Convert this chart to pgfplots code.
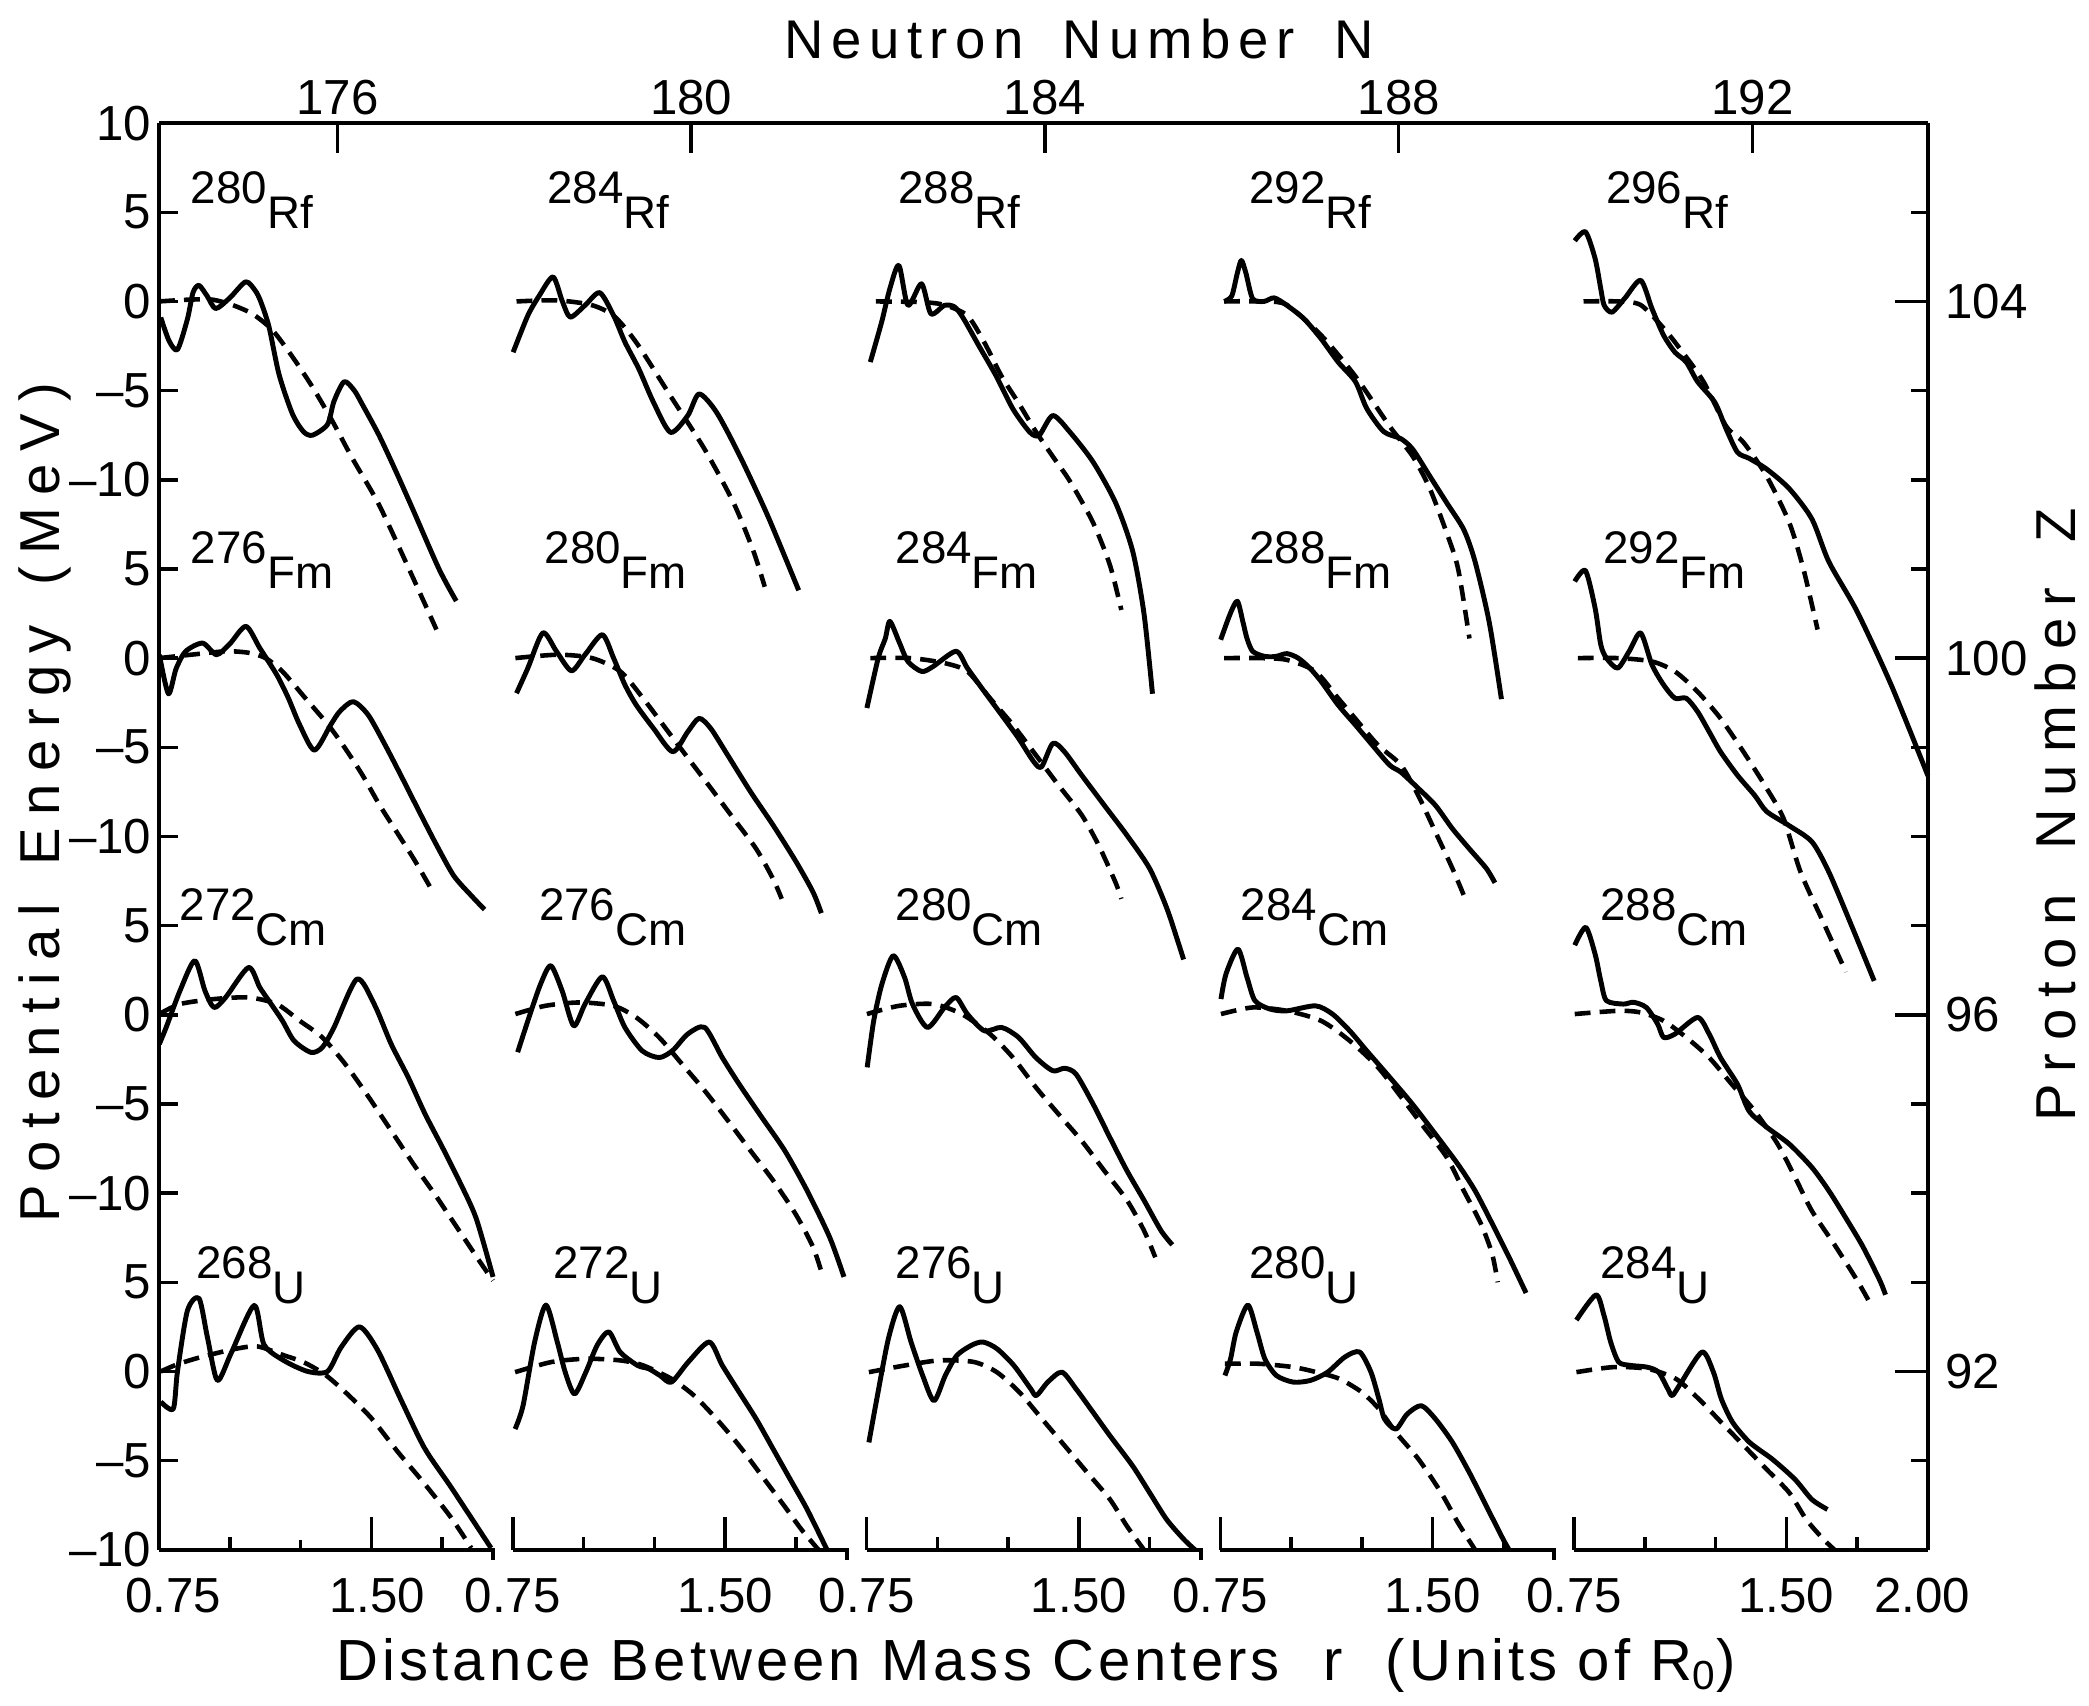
\documentclass[border=0pt]{standalone}
\usepackage{fontspec}
\setmainfont{Liberation Sans}
\newfontfamily\lab{Liberation Sans}[LetterSpace=7]
\newfontfamily\labw{Liberation Sans}[LetterSpace=14]
\newfontfamily\labv{Liberation Sans}[LetterSpace=22]
\usepackage{pgfplots}
\pgfplotsset{compat=1.18}
\pgfplotsset{
  pan/.style 2 args={x filter/.expression={x+#1}, y filter/.expression={y+#2}},
  sol/.style={black, line width=1.4pt, smooth, tension=0.45, line join=round},
  das/.style={black, line width=1.3pt, smooth, tension=0.45, dash pattern=on 4.5pt off 2.6pt},
  frame/.style={scale only axis, width=17.68cm, height=14.26cm, at={(0,0)}, anchor=south west,
    xmin=0.75, xmax=7, ymin=-10, ymax=70, clip=false,
    axis line style={line width=1.1pt}, tick style={line width=1pt, black},
    tick align=inside, tick label style={font=\fontsize{14}{16}\selectfont}},
}
% panel label: x, y, mass number, element
\newcommand\lbl[4]{\node[anchor=base west, inner sep=0, font=\fontsize{13}{15}\selectfont]
  at (axis cs:#1,#2) {\raisebox{0.25cm}{#3}#4};}
\newcommand\bl[2]{\node[anchor=base, inner sep=0, font=\fontsize{14}{16}\selectfont]
  at (axis cs:#1,-10) [yshift=-0.63cm] {#2};}

\begin{document}
\begin{tikzpicture}
\path[use as bounding box] (-1.59,-1.56) rectangle (19.29,15.49);

% top axis: neutron number
\begin{axis}[frame, axis x line*=top, axis y line=none, ytick=\empty,
  xtick={1.38,2.63,3.88,5.13,6.38}, xticklabels={176,180,184,188,192},
  major tick length=0.3cm, xticklabel style={anchor=south, inner sep=2pt}]
\end{axis}

% right axis: proton number
\begin{axis}[frame, axis y line*=right, axis x line=none, xtick=\empty,
  ytick={0,20,40,60}, yticklabels={92,96,100,104},
  minor ytick={-5,5,10,15,25,30,35,45,50,55,65},
  major tick length=0.33cm, minor tick length=0.17cm,
  yticklabel style={anchor=west, xshift=0.05cm}]
\end{axis}

% main axis with the curves
\begin{axis}[frame, axis y line*=left, axis x line=none, xtick=\empty,
  ytick={-10,-5,0,5,10,15,20,25,30,35,40,45,50,55,60,65,70},
  yticklabels={--10,--5,0,5,--10,--5,0,5,--10,--5,0,5,--10,--5,0,5,10},
  major tick length=0.19cm, yticklabel style={inner sep=2pt}]

% ---------- Rf row (Z=104) ----------
\addplot[sol, pan={0}{60}] coordinates {(0.756,-0.9) (0.785,-2.2) (0.815,-2.7) (0.85,-1.0) (0.87,0.5) (0.891,0.9) (0.92,0.3) (0.95,-0.4) (1.0,0.2) (1.056,1.1) (1.09,0.6) (1.109,0.0) (1.138,-1.4) (1.174,-4.1) (1.221,-6.3) (1.26,-7.3) (1.292,-7.5) (1.345,-6.9) (1.368,-5.6) (1.404,-4.5) (1.44,-5.0) (1.469,-5.8) (1.527,-7.5) (1.586,-9.5) (1.645,-11.6) (1.739,-15.0) (1.80,-16.8)};
\addplot[das, pan={0}{60}] coordinates {(0.75,0) (0.856,0.1) (0.938,0.1) (1.009,-0.2) (1.08,-0.7) (1.15,-1.6) (1.221,-3.1) (1.292,-4.8) (1.362,-6.7) (1.433,-8.8) (1.527,-11.4) (1.633,-15.0) (1.73,-18.4)};

\addplot[sol, pan={1.25}{60}] coordinates {(0.751,-2.85) (0.803,-0.79) (0.844,0.34) (0.892,1.37) (0.925,0.0) (0.953,-0.88) (1.005,-0.22) (1.057,0.49) (1.106,-0.79) (1.146,-2.28) (1.195,-3.78) (1.247,-5.66) (1.307,-7.34) (1.368,-6.4) (1.408,-5.19) (1.469,-6.2) (1.55,-8.6) (1.65,-12.0) (1.76,-16.2)};
\addplot[das, pan={1.25}{60}] coordinates {(0.763,0) (0.904,0.06) (1.025,-0.19) (1.106,-0.8) (1.186,-2.3) (1.307,-5.3) (1.428,-8.3) (1.53,-11.3) (1.60,-14.0) (1.64,-16.0)};

\addplot[sol, pan={2.5}{60}] coordinates {(0.763,-3.4) (0.803,-1.16) (0.832,0.71) (0.864,2.02) (0.896,-0.22) (0.944,0.99) (0.977,-0.69) (1.025,-0.22) (1.06,-0.3) (1.09,-0.9) (1.146,-2.47) (1.207,-4.16) (1.267,-6.03) (1.327,-7.34) (1.36,-7.5) (1.408,-6.4) (1.469,-7.34) (1.55,-9.0) (1.63,-11.3) (1.69,-14.0) (1.73,-17.5) (1.76,-22.0)};
\addplot[das, pan={2.5}{60}] coordinates {(0.783,0) (0.945,-0.04) (1.025,-0.2) (1.106,-0.8) (1.166,-2.3) (1.227,-4.2) (1.287,-5.7) (1.348,-7.3) (1.408,-8.7) (1.469,-10.1) (1.55,-12.4) (1.61,-14.8) (1.65,-17.3)};

\addplot[sol, pan={3.75}{60}] coordinates {(0.763,0.0) (0.79,0.3) (0.81,1.6) (0.824,2.3) (0.84,1.6) (0.864,0.15) (0.904,0.0) (0.94,0.2) (0.985,-0.22) (1.045,-0.97) (1.106,-2.1) (1.166,-3.4) (1.227,-4.5) (1.267,-6.0) (1.327,-7.3) (1.388,-7.7) (1.43,-8.3) (1.49,-9.8) (1.55,-11.3) (1.61,-12.8) (1.65,-14.6) (1.70,-18.0) (1.743,-22.3)};
\addplot[das, pan={3.75}{60}] coordinates {(0.763,0) (0.904,0) (0.985,-0.2) (1.106,-1.9) (1.227,-4.2) (1.348,-7.0) (1.43,-8.7) (1.49,-10.5) (1.55,-13.0) (1.59,-15.0) (1.63,-18.9)};

\addplot[sol, pan={5}{60}] coordinates {(0.752,3.4) (0.79,3.9) (0.824,2.4) (0.844,0.71) (0.856,-0.22) (0.884,-0.6) (0.93,0.2) (0.985,1.18) (1.025,-0.41) (1.066,-1.9) (1.106,-2.85) (1.146,-3.4) (1.186,-4.5) (1.247,-5.66) (1.287,-7.15) (1.327,-8.46) (1.368,-8.8) (1.43,-9.4) (1.51,-10.5) (1.59,-12.2) (1.65,-14.6) (1.75,-17.4) (1.87,-21.5) (2.0,-26.6)};
\addplot[das, pan={5}{60}] coordinates {(0.783,0) (0.904,0) (0.985,-0.2) (1.066,-1.5) (1.126,-2.7) (1.207,-4.5) (1.287,-7.0) (1.348,-7.9) (1.43,-9.8) (1.51,-12.4) (1.56,-15.0) (1.61,-18.4)};

% ---------- Fm row (Z=100) ----------
\addplot[sol, pan={0}{40}] coordinates {(0.751,0.19) (0.783,-2.0) (0.81,-0.6) (0.844,0.38) (0.904,0.84) (0.953,0.19) (1.0,0.8) (1.057,1.78) (1.106,0.56) (1.166,-0.94) (1.207,-2.25) (1.247,-3.75) (1.299,-5.16) (1.356,-3.75) (1.388,-3.0) (1.436,-2.44) (1.489,-3.19) (1.549,-4.88) (1.61,-6.75) (1.67,-8.63) (1.731,-10.5) (1.791,-12.2) (1.852,-13.3) (1.9,-14.1)};
\addplot[das, pan={0}{40}] coordinates {(0.751,0) (0.863,0.19) (0.985,0.38) (1.066,0.3) (1.126,0) (1.186,-0.75) (1.267,-2.25) (1.348,-3.75) (1.408,-5.07) (1.469,-6.57) (1.53,-8.26) (1.59,-9.76) (1.65,-11.26) (1.71,-12.9)};

\addplot[sol, pan={1.25}{40}] coordinates {(0.763,-1.97) (0.803,-0.56) (0.856,1.41) (0.904,0.38) (0.957,-0.71) (1.005,0.19) (1.066,1.31) (1.106,0) (1.146,-1.5) (1.186,-2.63) (1.247,-3.94) (1.315,-5.25) (1.368,-4.13) (1.408,-3.38) (1.449,-3.94) (1.509,-5.44) (1.59,-7.5) (1.67,-9.38) (1.75,-11.4) (1.81,-13.1) (1.84,-14.3)};
\addplot[das, pan={1.25}{40}] coordinates {(0.759,0) (0.91,0.19) (1.03,0) (1.13,-0.75) (1.21,-2.25) (1.29,-3.94) (1.37,-5.63) (1.45,-7.3) (1.53,-9.0) (1.61,-10.7) (1.67,-12.4) (1.70,-13.5)};

\addplot[sol, pan={2.5}{40}] coordinates {(0.751,-2.8) (0.791,0) (0.816,1.1) (0.832,2.06) (0.864,0.94) (0.896,-0.19) (0.945,-0.75) (0.985,-0.47) (1.066,0.38) (1.106,-0.56) (1.166,-1.88) (1.227,-3.19) (1.287,-4.5) (1.34,-5.8) (1.368,-6.1) (1.408,-4.78) (1.449,-5.25) (1.51,-6.57) (1.59,-8.26) (1.67,-9.94) (1.75,-11.8) (1.81,-14.0) (1.85,-15.9) (1.87,-16.9)};
\addplot[das, pan={2.5}{40}] coordinates {(0.763,0) (0.904,0) (1.025,-0.28) (1.106,-0.75) (1.186,-2.25) (1.267,-3.75) (1.348,-5.44) (1.428,-7.13) (1.51,-8.8) (1.57,-10.5) (1.63,-12.6) (1.65,-13.5)};

\addplot[sol, pan={3.75}{40}] coordinates {(0.751,1.03) (0.785,2.5) (0.81,3.19) (0.83,2.0) (0.844,1.1) (0.864,0.38) (0.905,0.1) (0.945,0.09) (0.985,0.25) (1.025,0) (1.066,-0.56) (1.106,-1.31) (1.166,-2.63) (1.227,-3.75) (1.287,-4.88) (1.348,-6.0) (1.388,-6.4) (1.449,-7.3) (1.51,-8.26) (1.57,-9.57) (1.63,-10.7) (1.69,-11.8) (1.72,-12.6)};
\addplot[das, pan={3.75}{40}] coordinates {(0.763,0) (0.884,0) (0.985,-0.1) (1.086,-0.75) (1.166,-2.25) (1.227,-3.4) (1.307,-4.88) (1.388,-6.0) (1.449,-7.7) (1.51,-9.76) (1.57,-11.8) (1.61,-13.3)};

\addplot[sol, pan={5}{40}] coordinates {(0.752,4.3) (0.79,4.9) (0.824,2.8) (0.844,0.75) (0.864,0) (0.904,-0.56) (0.945,0.4) (0.985,1.41) (1.025,-0.38) (1.066,-1.5) (1.106,-2.25) (1.146,-2.25) (1.186,-3.0) (1.227,-4.13) (1.267,-5.25) (1.327,-6.57) (1.388,-7.7) (1.43,-8.6) (1.51,-9.4) (1.59,-10.3) (1.65,-12.0) (1.73,-15.0) (1.81,-18.1)};
\addplot[das, pan={5}{40}] coordinates {(0.763,0) (0.904,0) (1.025,-0.19) (1.106,-0.75) (1.186,-1.88) (1.267,-3.38) (1.348,-5.25) (1.43,-7.3) (1.49,-9.0) (1.55,-12.0) (1.63,-14.8) (1.71,-17.6)};

% ---------- Cm row (Z=96) ----------
\addplot[sol, pan={0}{20}] coordinates {(0.751,-1.64) (0.775,-0.71) (0.824,1.35) (0.876,3.03) (0.912,1.35) (0.944,0.41) (0.985,0.97) (1.066,2.65) (1.106,1.53) (1.146,0.6) (1.186,-0.34) (1.227,-1.46) (1.287,-2.11) (1.327,-1.83) (1.368,-0.71) (1.449,2.0) (1.51,0.6) (1.57,-1.64) (1.63,-3.5) (1.69,-5.57) (1.75,-7.4) (1.81,-9.3) (1.87,-11.4) (1.93,-14.7)};
\addplot[das, pan={0}{20}] coordinates {(0.751,0.04) (0.824,0.6) (0.944,0.88) (1.066,0.97) (1.166,0.6) (1.247,-0.34) (1.327,-1.27) (1.408,-2.77) (1.49,-4.6) (1.57,-6.5) (1.65,-8.4) (1.73,-10.2) (1.81,-12.1) (1.89,-14.0) (1.93,-14.9)};

\addplot[sol, pan={1.25}{20}] coordinates {(0.767,-2.1) (0.807,-0.15) (0.848,1.72) (0.884,2.75) (0.924,1.35) (0.965,-0.62) (1.005,0.6) (1.066,2.13) (1.106,0.79) (1.146,-0.71) (1.207,-2.02) (1.267,-2.4) (1.315,-2.0) (1.368,-1.08) (1.428,-0.71) (1.49,-2.4) (1.55,-3.9) (1.63,-5.76) (1.71,-7.6) (1.79,-9.87) (1.87,-12.5) (1.92,-14.7)};
\addplot[das, pan={1.25}{20}] coordinates {(0.759,0.04) (0.864,0.5) (0.985,0.69) (1.106,0.5) (1.186,-0.15) (1.267,-1.27) (1.348,-2.77) (1.428,-4.26) (1.51,-5.94) (1.59,-7.63) (1.67,-9.3) (1.75,-11.2) (1.81,-13.0) (1.84,-14.4)};

\addplot[sol, pan={2.5}{20}] coordinates {(0.752,-2.95) (0.775,-0.34) (0.804,1.72) (0.844,3.31) (0.884,2.1) (0.912,0.6) (0.965,-0.71) (1.025,0.41) (1.066,0.97) (1.106,0.04) (1.166,-0.9) (1.227,-0.71) (1.287,-1.27) (1.348,-2.4) (1.408,-3.14) (1.45,-3.0) (1.49,-3.33) (1.55,-5.0) (1.61,-6.9) (1.67,-8.75) (1.73,-10.4) (1.79,-12.1) (1.83,-12.9)};
\addplot[das, pan={2.5}{20}] coordinates {(0.751,0.04) (0.864,0.5) (0.985,0.6) (1.086,0.04) (1.186,-1.08) (1.267,-2.4) (1.348,-4.07) (1.428,-5.57) (1.51,-7.07) (1.59,-8.75) (1.67,-10.4) (1.73,-12.1) (1.77,-13.6)};

\addplot[sol, pan={3.75}{20}] coordinates {(0.752,0.88) (0.77,2.3) (0.812,3.68) (0.844,2.1) (0.872,0.79) (0.925,0.32) (0.985,0.22) (1.086,0.5) (1.146,0.04) (1.207,-0.9) (1.267,-2.02) (1.348,-3.5) (1.428,-5.0) (1.51,-6.7) (1.59,-8.4) (1.65,-9.87) (1.71,-11.7) (1.77,-13.6) (1.83,-15.6)};
\addplot[das, pan={3.75}{20}] coordinates {(0.752,0.04) (0.864,0.41) (0.985,0.22) (1.106,-0.34) (1.207,-1.46) (1.307,-2.95) (1.388,-4.6) (1.469,-6.3) (1.55,-8.0) (1.61,-9.87) (1.67,-11.7) (1.71,-13.4) (1.73,-15.0)};

\addplot[sol, pan={5}{20}] coordinates {(0.752,3.9) (0.791,4.9) (0.824,3.4) (0.844,1.9) (0.864,0.79) (0.924,0.6) (0.96,0.7) (1.005,0.41) (1.045,-0.52) (1.066,-1.27) (1.106,-1.08) (1.186,-0.15) (1.227,-1.08) (1.267,-2.4) (1.327,-3.9) (1.368,-5.4) (1.43,-6.3) (1.51,-7.25) (1.59,-8.56) (1.65,-9.87) (1.71,-11.4) (1.77,-13.0) (1.83,-14.9) (1.85,-15.7)};
\addplot[das, pan={5}{20}] coordinates {(0.752,0.04) (0.904,0.22) (0.985,0.13) (1.066,-0.34) (1.146,-1.27) (1.227,-2.4) (1.307,-3.9) (1.388,-5.4) (1.469,-7.25) (1.53,-9.1) (1.59,-11.0) (1.67,-12.9) (1.75,-14.9) (1.80,-16.3)};

% ---------- U row (Z=92) ----------
\addplot[sol, pan={0}{0}] coordinates {(0.756,-1.7) (0.80,-2.1) (0.815,0.0) (0.85,3.4) (0.891,4.1) (0.921,1.9) (0.956,-0.5) (1.004,1.0) (1.086,3.7) (1.121,1.5) (1.192,0.6) (1.275,0.0) (1.345,0.0) (1.393,1.35) (1.458,2.5) (1.522,1.2) (1.605,-1.6) (1.688,-4.3) (1.782,-6.5) (1.923,-9.9)};
\addplot[das, pan={0}{0}] coordinates {(0.756,0) (0.815,0.4) (0.897,0.8) (1.015,1.25) (1.098,1.4) (1.192,0.9) (1.263,0.5) (1.334,-0.15) (1.404,-1.1) (1.499,-2.6) (1.593,-4.5) (1.688,-6.3) (1.782,-8.2) (1.853,-9.9)};

\addplot[sol, pan={1.25}{0}] coordinates {(0.758,-3.23) (0.786,-1.92) (0.827,1.65) (0.867,3.72) (0.907,1.65) (0.935,-0.04) (0.968,-1.26) (1.008,-0.04) (1.048,1.47) (1.089,2.22) (1.129,1.09) (1.19,0.34) (1.23,0.15) (1.27,-0.23) (1.31,-0.6) (1.37,0.53) (1.444,1.65) (1.49,0.34) (1.55,-1.17) (1.61,-2.67) (1.67,-4.36) (1.73,-6.05) (1.79,-7.74) (1.86,-10.0)};
\addplot[das, pan={1.25}{0}] coordinates {(0.758,-0.04) (0.887,0.53) (1.008,0.71) (1.129,0.62) (1.21,0.34) (1.31,-0.41) (1.39,-1.35) (1.47,-2.67) (1.55,-4.17) (1.63,-5.86) (1.71,-7.56) (1.77,-8.87) (1.83,-10.0)};

\addplot[sol, pan={2.5}{0}] coordinates {(0.758,-3.98) (0.786,-1.54) (0.827,1.84) (0.867,3.63) (0.907,1.65) (0.948,-0.23) (0.988,-1.64) (1.028,-0.23) (1.069,0.9) (1.121,1.47) (1.161,1.65) (1.21,1.28) (1.27,0.34) (1.33,-0.98) (1.35,-1.35) (1.39,-0.6) (1.44,-0.04) (1.49,-0.98) (1.55,-2.29) (1.61,-3.61) (1.69,-5.3) (1.75,-6.8) (1.81,-8.3) (1.87,-9.4) (1.91,-10.0)};
\addplot[das, pan={2.5}{0}] coordinates {(0.758,-0.04) (0.887,0.34) (1.008,0.62) (1.129,0.53) (1.21,-0.04) (1.29,-1.17) (1.37,-2.67) (1.45,-4.17) (1.53,-5.68) (1.61,-7.18) (1.67,-8.68) (1.73,-10.0)};

\addplot[sol, pan={3.75}{0}] coordinates {(0.766,-0.23) (0.786,0.71) (0.806,2.22) (0.847,3.72) (0.879,2.22) (0.907,0.71) (0.948,-0.23) (1.008,-0.6) (1.069,-0.5) (1.129,-0.04) (1.19,0.81) (1.242,1.09) (1.282,-0.04) (1.31,-1.54) (1.33,-2.67) (1.37,-3.23) (1.41,-2.39) (1.46,-1.92) (1.51,-2.67) (1.57,-3.98) (1.63,-5.68) (1.69,-7.56) (1.75,-9.44) (1.77,-10.0)};
\addplot[das, pan={3.75}{0}] coordinates {(0.766,0.43) (0.887,0.43) (1.008,0.24) (1.089,-0.04) (1.17,-0.41) (1.25,-1.17) (1.31,-2.1) (1.37,-3.42) (1.45,-4.92) (1.53,-6.8) (1.59,-8.5) (1.65,-10.0)};

\addplot[sol, pan={5}{0}] coordinates {(0.758,2.88) (0.827,4.29) (0.855,3.16) (0.879,1.65) (0.907,0.53) (0.948,0.34) (1.008,0.24) (1.048,-0.04) (1.081,-0.98) (1.097,-1.35) (1.129,-0.6) (1.202,1.09) (1.242,-0.04) (1.27,-1.54) (1.31,-2.86) (1.37,-3.98) (1.45,-4.92) (1.53,-6.05) (1.59,-7.18) (1.645,-7.74)};
\addplot[das, pan={5}{0}] coordinates {(0.758,-0.04) (0.887,0.24) (1.008,0.15) (1.109,-0.41) (1.19,-1.54) (1.27,-2.86) (1.35,-4.17) (1.43,-5.49) (1.51,-6.8) (1.57,-8.3) (1.63,-9.4) (1.67,-10.0)};

% ---------- panel labels ----------
\lbl{0.86}{64.1}{280}{Rf} \lbl{2.12}{64.1}{284}{Rf} \lbl{3.36}{64.1}{288}{Rf} \lbl{4.6}{64.1}{292}{Rf} \lbl{5.86}{64.1}{296}{Rf}
\lbl{0.86}{43.9}{276}{Fm} \lbl{2.11}{43.9}{280}{Fm} \lbl{3.35}{43.9}{284}{Fm} \lbl{4.6}{43.9}{288}{Fm} \lbl{5.85}{43.9}{292}{Fm}
\lbl{0.82}{23.9}{272}{Cm} \lbl{2.09}{23.9}{276}{Cm} \lbl{3.35}{23.9}{280}{Cm} \lbl{4.57}{23.9}{284}{Cm} \lbl{5.84}{23.9}{288}{Cm}
\lbl{0.88}{3.8}{268}{U} \lbl{2.14}{3.8}{272}{U} \lbl{3.35}{3.8}{276}{U} \lbl{4.6}{3.8}{280}{U} \lbl{5.84}{3.8}{284}{U}

% ---------- broken bottom axis ----------
\draw[line width=1.1pt] (axis cs:0.75,-10) -- (axis cs:1.93,-10) -- ++(0pt,-0.1cm);
\draw[line width=1.1pt] (axis cs:2.0,-10) -- (axis cs:3.18,-10) -- ++(0pt,-0.1cm);
\draw[line width=1.1pt] (axis cs:3.25,-10) -- (axis cs:4.43,-10) -- ++(0pt,-0.1cm);
\draw[line width=1.1pt] (axis cs:4.5,-10) -- (axis cs:5.68,-10) -- ++(0pt,-0.1cm);
\draw[line width=1.1pt] (axis cs:5.75,-10) -- (axis cs:7.0,-10);
\draw[line width=1pt]
  (axis cs:2.0,-10) -- ++(0pt,0.33cm) (axis cs:3.25,-10) -- ++(0pt,0.33cm)
  (axis cs:4.5,-10) -- ++(0pt,0.33cm) (axis cs:5.75,-10) -- ++(0pt,0.33cm)
  (axis cs:1.5,-10) -- ++(0pt,0.33cm) (axis cs:2.75,-10) -- ++(0pt,0.33cm)
  (axis cs:4.0,-10) -- ++(0pt,0.33cm) (axis cs:5.25,-10) -- ++(0pt,0.33cm)
  (axis cs:6.5,-10) -- ++(0pt,0.33cm)
  (axis cs:1.0,-10) -- ++(0pt,0.13cm) (axis cs:1.25,-10) -- ++(0pt,0.1cm) (axis cs:1.75,-10) -- ++(0pt,0.13cm)
  (axis cs:2.25,-10) -- ++(0pt,0.13cm) (axis cs:2.5,-10) -- ++(0pt,0.13cm) (axis cs:3.0,-10) -- ++(0pt,0.13cm)
  (axis cs:3.5,-10) -- ++(0pt,0.13cm) (axis cs:3.75,-10) -- ++(0pt,0.13cm) (axis cs:4.25,-10) -- ++(0pt,0.13cm)
  (axis cs:4.75,-10) -- ++(0pt,0.13cm) (axis cs:5.0,-10) -- ++(0pt,0.13cm) (axis cs:5.5,-10) -- ++(0pt,0.13cm)
  (axis cs:6.0,-10) -- ++(0pt,0.13cm) (axis cs:6.25,-10) -- ++(0pt,0.13cm) (axis cs:6.75,-10) -- ++(0pt,0.13cm);
\bl{0.80}{0.75} \bl{1.52}{1.50} \bl{2.0}{0.75} \bl{2.75}{1.50} \bl{3.25}{0.75} \bl{4.0}{1.50}
\bl{4.5}{0.75} \bl{5.25}{1.50} \bl{5.75}{0.75} \bl{6.5}{1.50} \bl{6.98}{2.00}

% ---------- axis titles ----------
\node[anchor=base, inner sep=0, font=\lab\fontsize{16.5}{20}\selectfont] at (axis cs:3.85,-10) [yshift=-1.31cm]
  {Distance Between Mass Centers\hspace{0.4em} r\hspace{0.4em} (Units of R\textsubscript{0})};
\node[anchor=base, inner sep=0, font=\labw\fontsize{15.5}{18}\selectfont] at (axis cs:4.0,70) [yshift=0.65cm]
  {Neutron\hspace{0.3em} Number\hspace{0.3em} N};
\node[xshift=-1.14cm, rotate=90, inner sep=0, font=\labv\fontsize{16}{19}\selectfont] at (axis cs:0.75,31.9)
  {Potential\hspace{0.2em} Energy\hspace{0.2em} (MeV)};
\node[xshift=1.27cm, rotate=90, inner sep=0, font=\labv\fontsize{16}{19}\selectfont] at (axis cs:7.0,31.2)
  {Proton\hspace{0.3em} Number\hspace{0.3em} Z};
\end{axis}
\end{tikzpicture}
\end{document}
